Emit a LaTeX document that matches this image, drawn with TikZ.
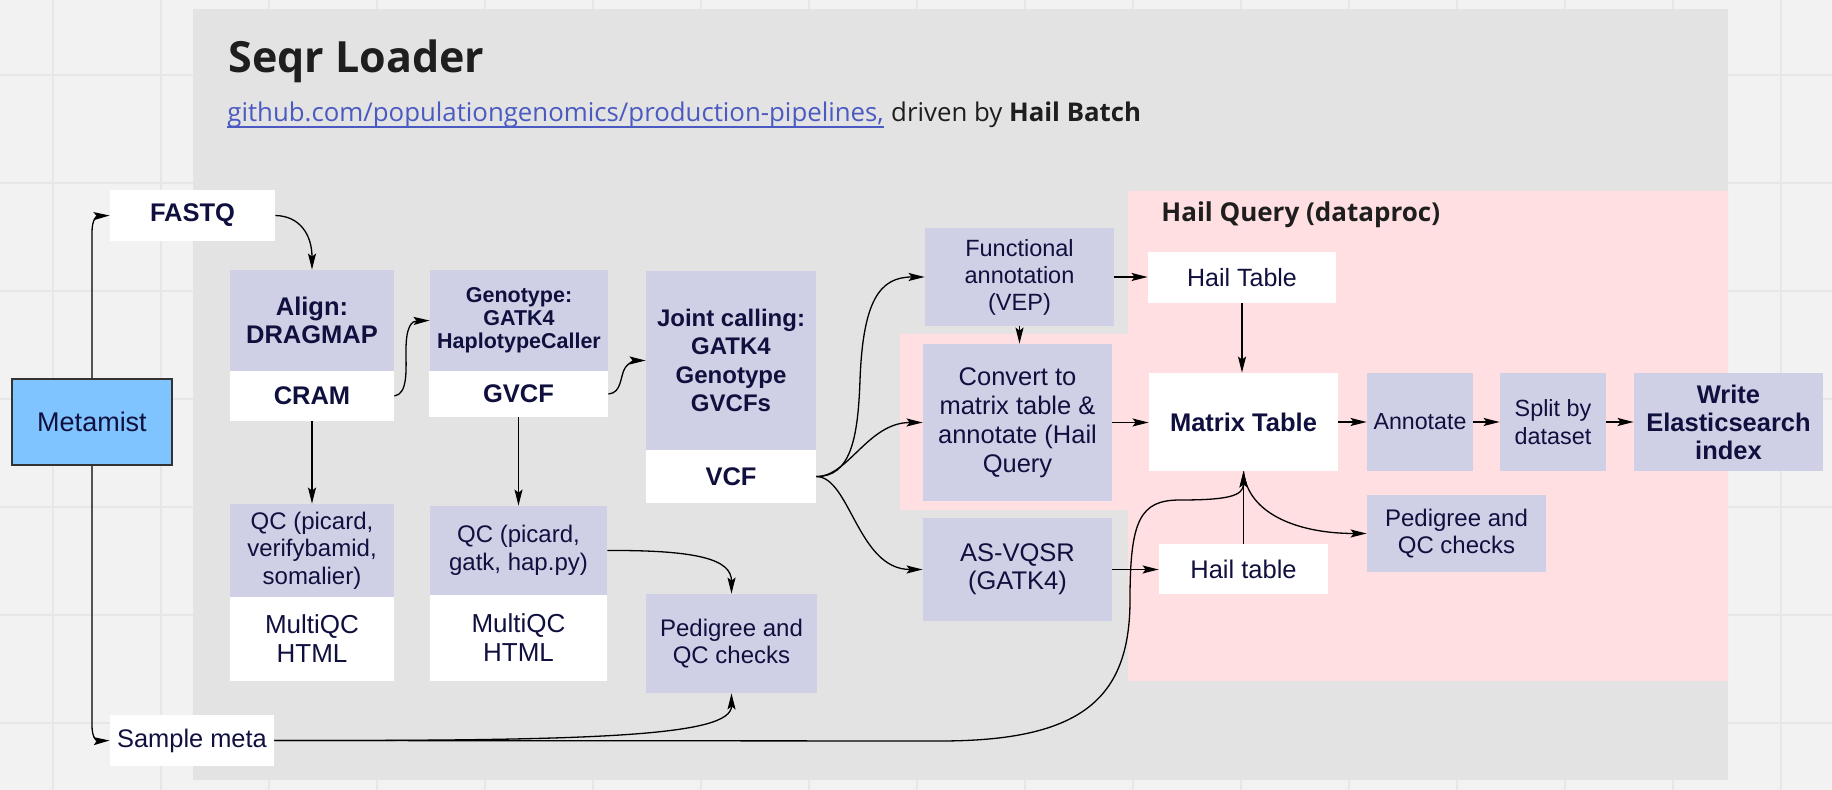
\documentclass[tikz,border=0pt]{standalone}
\usepackage{fontspec}
\setmainfont{Liberation Sans}
\newfontfamily\osans{Open Sans}
\usetikzlibrary{arrows.meta}
\definecolor{bgc}{HTML}{F2F2F2}
\definecolor{gridc}{HTML}{E7E7E7}
\definecolor{panelc}{HTML}{E3E3E3}
\definecolor{pinkc}{HTML}{FFDFE1}
\definecolor{lavc}{HTML}{CFCFE6}
\definecolor{navyc}{HTML}{10103F}
\definecolor{metac}{HTML}{80C4FF}
\definecolor{linkc}{HTML}{4A5AC0}
\definecolor{titlec}{HTML}{1E1E1E}
\begin{document}
\begin{tikzpicture}[x=0.5pt,y=-0.5pt,
  sz/.style 2 args={minimum width={#1*0.5pt}, minimum height={#2*0.5pt}},
  bx/.style={inner sep=0pt, align=center, text=navyc},
  lav/.style={bx, fill=lavc},
  wht/.style={bx, fill=white},
  fb/.style={font=\fontsize{12.75}{14}\selectfont\bfseries},
  fr/.style={font=\fontsize{12}{13.75}\selectfont},
  arr/.style={-{Stealth[length=8pt,width=4pt,inset=1.5pt]}, line width=0.65pt, black}]
\useasboundingbox (0,0) rectangle (1832,790);
% background and grid
\fill[bgc] (0,0) rectangle (1832,790);
\foreach \gx in {53,161,...,1781} \draw[gridc, line width=1pt] (\gx,0) -- (\gx,790);
\foreach \gy in {75,183,...,723} \draw[gridc, line width=1pt] (0,\gy) -- (1832,\gy);
% panel
\fill[panelc] (193,9) rectangle (1728,780);
% pink region
\fill[pinkc] (1128,191) -- (1728,191) -- (1728,681) -- (1128,681) -- (1128,510) -- (900,510) -- (900,334) -- (1128,334) -- cycle;
% titles
\node[anchor=base west, inner sep=0pt, text=titlec, font=\osans\bfseries\fontsize{21.5}{24}\selectfont] (title) at (228,73) {Seqr Loader};
\node[anchor=base west, inner sep=0pt, text=linkc, font=\osans\fontsize{12.9}{14}\selectfont] (link) at (227,122) {github.com/populationgenomics/production-pipelines,};
\draw[linkc, line width=0.6pt] ([yshift=-2.5pt]link.base west) -- ([yshift=-2.5pt]link.base east);
\node[anchor=base west, inner sep=0pt, text=titlec, font=\osans\fontsize{12.9}{14}\selectfont] (driven) at (link.base east) {\ driven by \textbf{Hail Batch}};
\node[anchor=base west, inner sep=0pt, text=titlec, font=\osans\bfseries\fontsize{13}{14}\selectfont] (hq) at (1161,222) {Hail Query (dataproc)};
% nodes
\node[wht, fb, sz={165}{51}] (fastq) at (192.5,215.5) {FASTQ};
\node[bx, fill=metac, draw=black!80, line width=1pt, sz={160}{86}, font=\fontsize{13.5}{15}\selectfont] (meta) at (92,422) {Metamist};
\node[wht, sz={164}{51}, font=\fontsize{12.7}{14}\selectfont] (smeta) at (192,740.5) {Sample meta};
\node[lav, fb, sz={164}{101}] (align) at (312,320.5) {Align:\\DRAGMAP};
\node[wht, fb, sz={164}{50}] (cram) at (312,396) {CRAM};
\node[lav, sz={178}{101}, font=\fontsize{10.75}{11.5}\selectfont\bfseries] (geno) at (519,320.5) {Genotype:\\GATK4\\HaplotypeCaller};
\node[wht, fb, sz={179}{46}] (gvcf) at (518.5,394) {GVCF};
\node[lav, sz={170}{179}, font=\fontsize{12}{14.3}\selectfont\bfseries] (joint) at (731,360.5) {Joint calling:\\GATK4\\Genotype\\GVCFs};
\node[wht, fb, sz={170}{53}] (vcf) at (731,476.5) {VCF};
\node[lav, fr, sz={164}{93}] (qca) at (312,550.5) {QC (picard,\\verifybamid,\\somalier)};
\node[wht, sz={164}{84}, font=\fontsize{13}{14.5}\selectfont] (mqa) at (312,639) {MultiQC\\HTML};
\node[lav, fr, sz={177}{89}] (qcb) at (518.5,550.5) {QC (picard,\\gatk, hap.py)};
\node[wht, sz={177}{86}, font=\fontsize{13}{14.5}\selectfont] (mqb) at (518.5,638) {MultiQC\\HTML};
\node[lav, fr, sz={171}{99}] (peda) at (731.5,643.5) {Pedigree and\\QC checks};
\node[lav, sz={189}{98}, font=\fontsize{11.75}{13.5}\selectfont] (func) at (1019.5,277) {Functional\\annotation\\(VEP)};
\node[lav, sz={189}{157}, font=\fontsize{12.75}{14.5}\selectfont] (conv) at (1017.5,422.5) {Convert to\\matrix table \&\\annotate (Hail\\Query};
\node[lav, sz={189}{103}, font=\fontsize{12.75}{14}\selectfont] (vqsr) at (1017.5,569.5) {AS-VQSR\\(GATK4)};
\node[wht, sz={188}{51}, font=\fontsize{12.5}{14}\selectfont] (hta) at (1242,277.5) {Hail Table};
\node[wht, fb, sz={189}{98}] (mt) at (1243.5,422) {Matrix Table};
\node[wht, sz={169}{50}, font=\fontsize{12.75}{14}\selectfont] (htb) at (1243.5,569) {Hail table};
\node[lav, sz={106}{98}, font=\fontsize{11.6}{13.5}\selectfont] (annot) at (1420,422) {Annotate};
\node[lav, sz={106}{98}, font=\fontsize{11.7}{14}\selectfont] (split) at (1553,422) {Split by\\dataset};
\node[lav, fb, sz={189}{98}] (wes) at (1728.5,422) {Write\\Elasticsearch\\index};
\node[lav, fr, sz={179}{77}] (pedb) at (1456.5,533.5) {Pedigree and\\QC checks};
% connectors
\draw[arr] (meta.north) -- (92,232) .. controls (92,219) and (97,216) .. (fastq.west);
\draw[arr] (meta.south) -- (92,726) .. controls (92,738) and (97,741) .. (smeta.west);
\draw[arr] (fastq.east) .. controls (300,216) and (312,235) .. (align.north);
\draw[arr] (cram.east) .. controls (408,394) and (406,370) .. (406,350) .. controls (406,326) and (412,321) .. (geno.west);
\draw[arr] (gvcf.east) .. controls (622,393) and (620,376) .. (625,368) .. controls (630,361) and (636,360.5) .. (joint.west);
\draw[arr] (cram.south) -- (qca.north);
\draw[arr] (gvcf.south) -- (qcb.north);
\draw[arr] (qcb.east) .. controls (700,550) and (731.5,560) .. (peda.north);
\draw[arr] (smeta.east) .. controls (600,741) and (731.5,736) .. (peda.south);
\draw[arr] (smeta.east) -- (940,741) .. controls (1080,741) and (1130,700) .. (1130,600) .. controls (1130,520) and (1140,500) .. (1180,500) .. controls (1228,500) and (1243.5,496) .. (mt.south);
\draw[arr] (vcf.east) .. controls (850,477) and (858,440) .. (860,380) .. controls (863,300) and (880,277) .. (func.west);
\draw[arr] (vcf.east) .. controls (848,477) and (868,422.5) .. (conv.west);
\draw[arr] (vcf.east) .. controls (850,477) and (858,569.5) .. (vqsr.west);
\draw[arr] (func.east) -- (func.east -| hta.west);
\draw[arr] (func.south) -- (func.south |- conv.north);
\draw[arr] (conv.east) -- (conv.east -| mt.west);
\draw[arr] (vqsr.east) -- (vqsr.east -| htb.west);
\draw[arr] (hta.south) -- (hta.south |- mt.north);
\draw[arr] (htb.north) -- (mt.south);
\draw[arr] (mt.south) .. controls (1248,515) and (1300,533.5) .. (pedb.west);
\draw[arr] (mt.east) -- (annot.west);
\draw[arr] (annot.east) -- (split.west);
\draw[arr] (split.east) -- (wes.west);
\end{tikzpicture}
\end{document}
